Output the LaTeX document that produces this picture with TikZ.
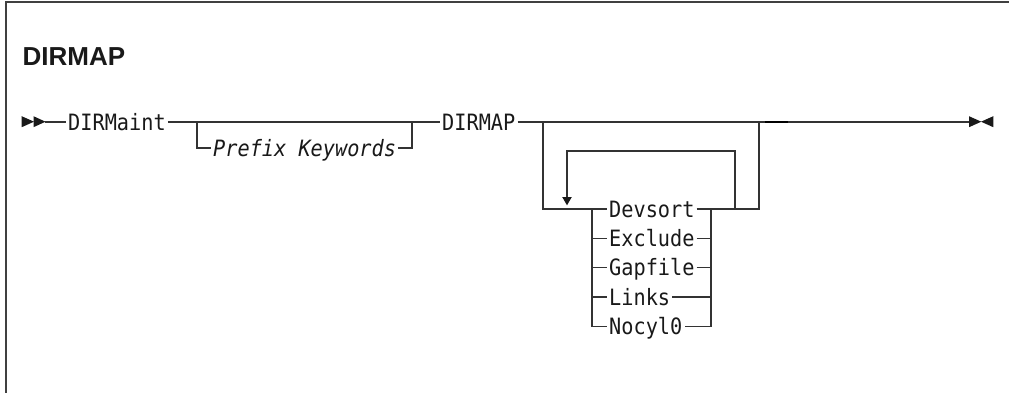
\documentclass[tikz,border=0pt]{standalone}
\usepackage{fontspec}
\setmainfont{Liberation Sans}
\newfontfamily\rrmono[FakeStretch=0.9]{DejaVu Sans Mono}
\begin{document}
\begin{tikzpicture}[x=1pt,y=-1pt,
  rail/.style={draw=black!80,line width=1.3pt},
  kw/.style={font=\rrmono\fontsize{22.5}{26}\selectfont,text=black!90,inner xsep=2pt,inner ysep=0pt,text height=16.4pt,text depth=0pt,anchor=west},
  varkw/.style={kw,font=\rrmono\itshape\fontsize{22.5}{26}\selectfont},
  tip/.style={fill=black!90,draw=none}]
\useasboundingbox (0,0) rectangle (1009,393);
% frame
\draw[draw=black!75,line width=2pt] (5.5,393) -- (5.5,2.5) -- (1009,2.5);
% title
\node[font=\bfseries\fontsize{26}{30}\selectfont,anchor=base west,inner sep=0pt,text=black!90] (title) at (22.4,65.3) {DIRMAP};
% start arrows
\coordinate (s1) at (45,122);
\fill[tip] (21.7,116.2) -- (34,121.7) -- (21.7,127.2) -- cycle;
\fill[tip] (33.5,116.2) -- (45.5,121.7) -- (33.5,127.2) -- cycle;
% nodes
\node[kw] (dirmaint) at (66,122) {DIRMaint};
\node[varkw] (prefix) at (211,148) {Prefix Keywords};
\node[kw] (dirmap) at (440,122) {DIRMAP};
\node[kw] (devsort) at (607,209) {Devsort};
\node[kw] (exclude) at (607,238.3) {Exclude};
\node[kw] (gapfile) at (607,267.6) {Gapfile};
\node[kw] (links) at (607,296.9) {Links};
\node[kw] (nocylo) at (607,326.2) {Nocyl0};
% junctions
\coordinate (j1) at (197,122);
\coordinate (j2) at (412,122);
\coordinate (j3) at (543,122);
\coordinate (j4) at (759,122);
\coordinate (e1) at (970,122);
\coordinate (sl) at (592,209);
\coordinate (sr) at (711,209);
\coordinate (lp) at (735,209);
% main line
\draw[rail] (s1) -- (dirmaint.west);
\draw[rail] (dirmaint.east) -- (j1) -- (j2) -- (dirmap.west);
\draw[rail] (dirmap.east) -- (j3) -- (j4) -- (e1);
\draw[draw=black,line width=2.2pt] (765,122) -- (788,122);
% optional prefix
\draw[rail,line join=miter] (j1) -- (j1 |- prefix.west) -- (prefix.west);
\draw[rail,line join=miter] (prefix.east) -- (j2 |- prefix.east) -- (j2);
% outer bypass and stack
\draw[rail,line join=miter] (j3) -- (j3 |- sl) -- (sl) -- (devsort.west);
\draw[rail,line join=miter] (devsort.east) -- (sr) -- (lp) -- (j4 |- lp) -- (j4);
\draw[rail,line join=miter] (sl) -- (sl |- nocylo.west) -- (nocylo.west);
\draw[rail,line join=miter] (sr) -- (sr |- nocylo.east) -- (nocylo.east);
\foreach \n in {exclude,gapfile,links}{
  \draw[rail] (sl |- \n.west) -- (\n.west);
  \draw[rail] (\n.east) -- (sr |- \n.east);
}
% repeat loop
\coordinate (lt) at (735,151);
\coordinate (la) at (567,197);
\draw[rail,line join=miter] (lp) -- (lt) -- (lt -| la) -- (la);
\fill[tip] (562.2,197) -- (571.8,197) -- (567,205.3) -- cycle;
% end arrows
\fill[tip] (969,116.2) -- (981.3,121.7) -- (969,127.2) -- cycle;
\fill[tip] (993.3,116.2) -- (981,121.7) -- (993.3,127.2) -- cycle;
\end{tikzpicture}
\end{document}
